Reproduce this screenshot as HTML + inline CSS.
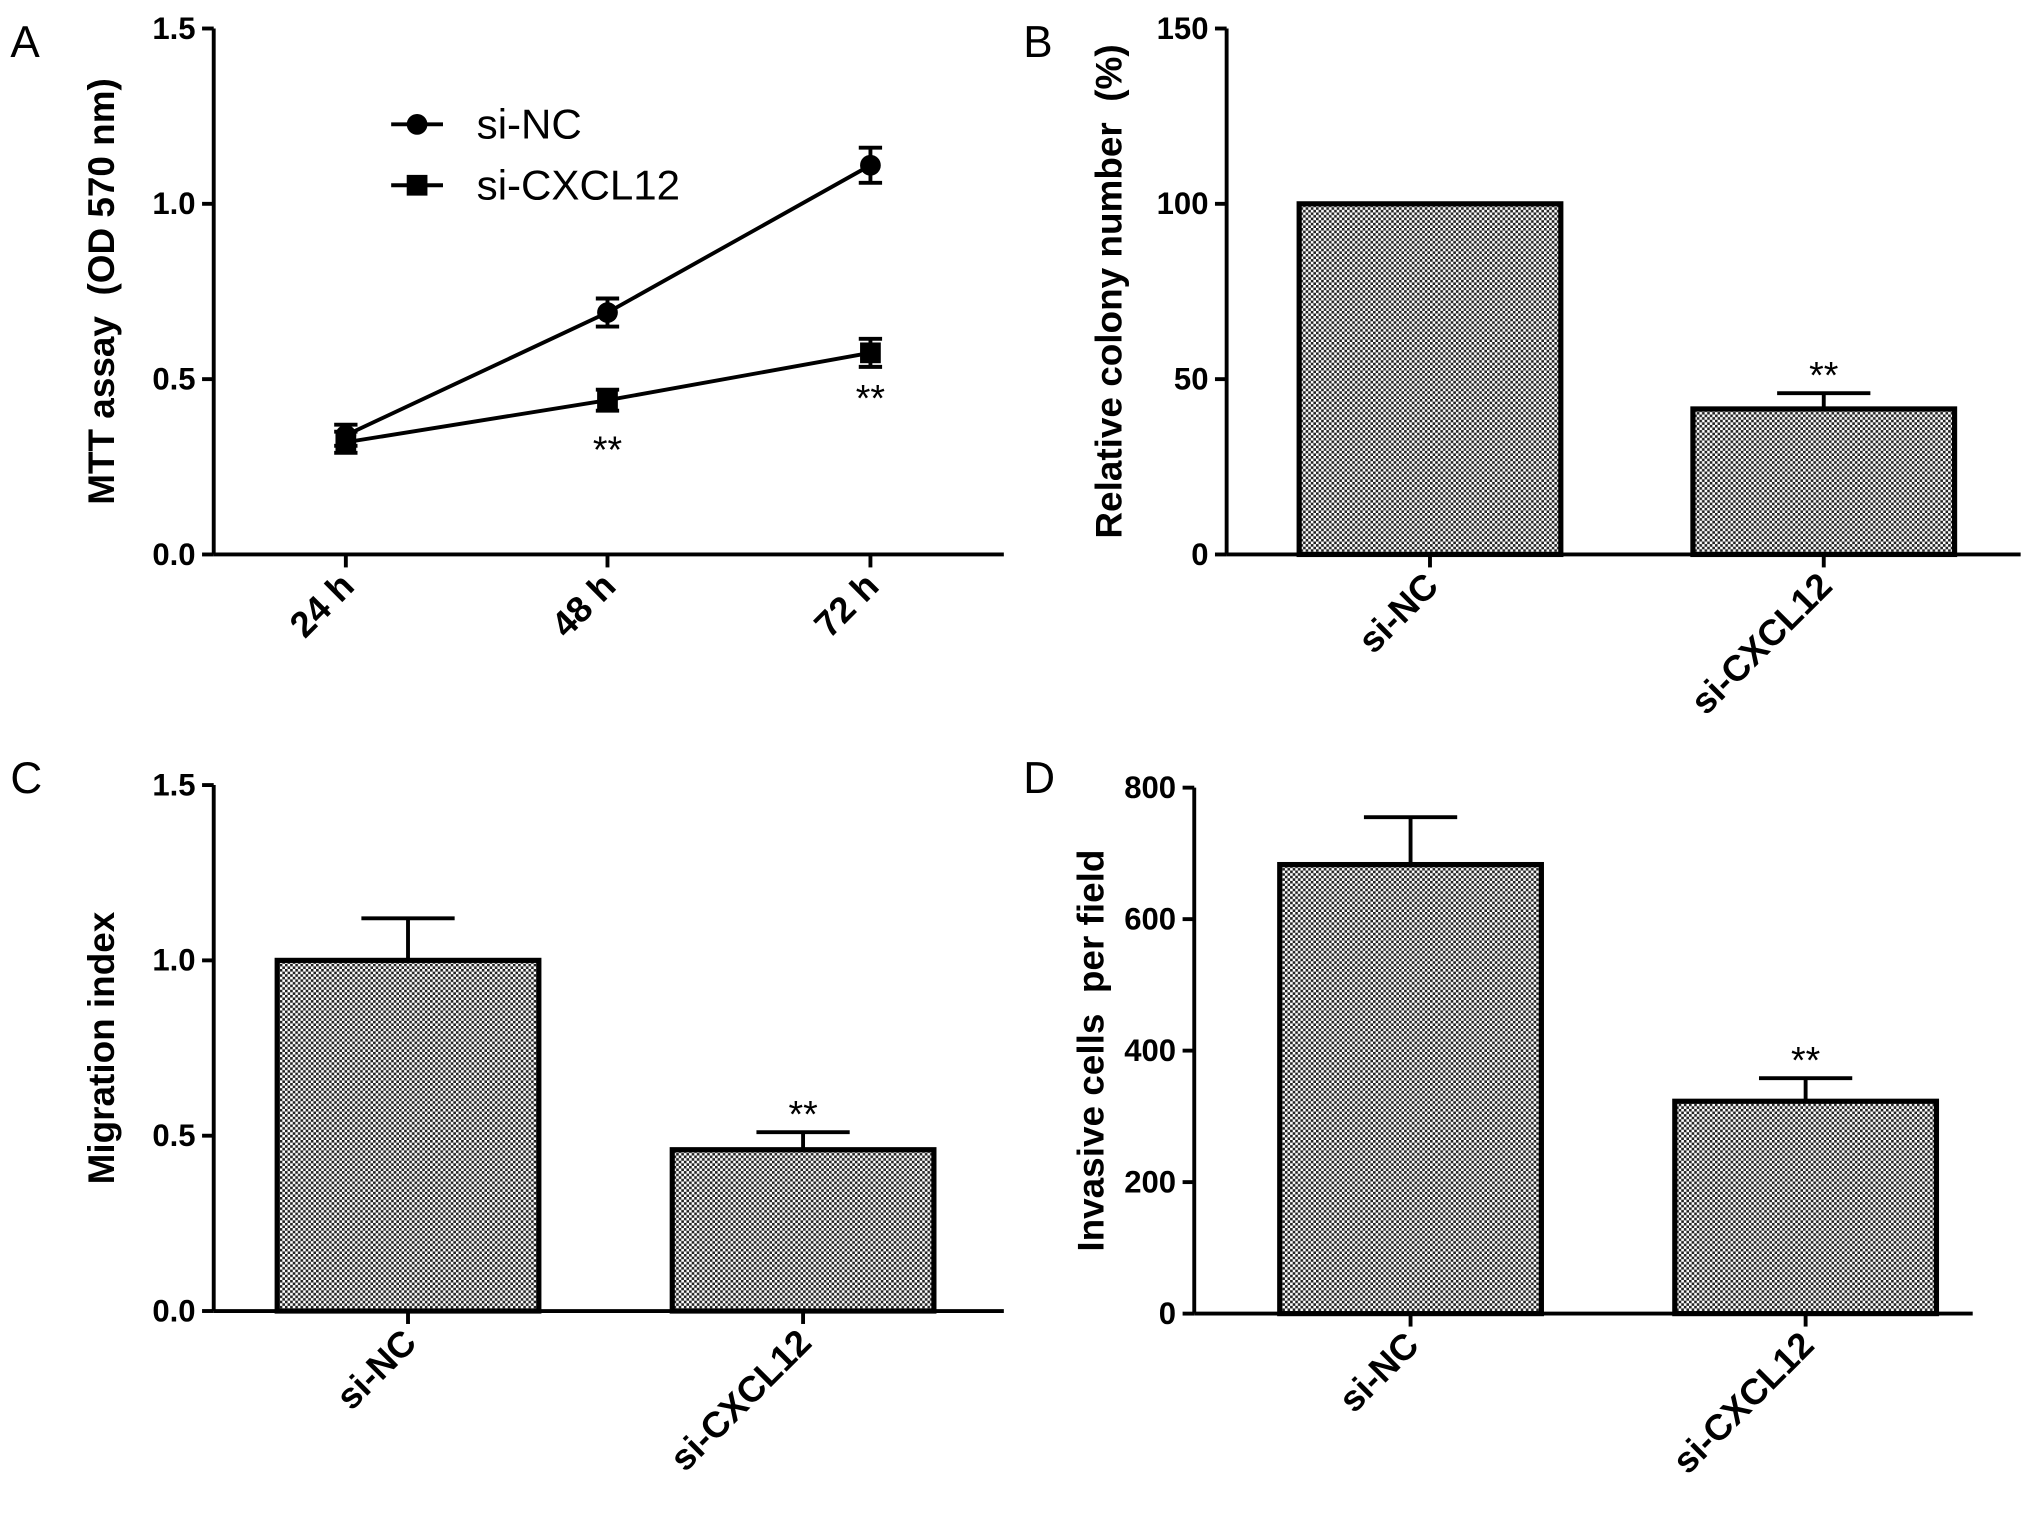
<!DOCTYPE html>
<html><head><meta charset="utf-8"><style>html,body{margin:0;padding:0;background:#fff}svg{display:block;font-family:"Liberation Sans",Arial,sans-serif}</style></head>
<body>
<svg id="fig" width="2031" height="1517" viewBox="0 0 1568 1171" preserveAspectRatio="none" xmlns="http://www.w3.org/2000/svg">
<defs><pattern id="chk" width="4" height="4" patternUnits="userSpaceOnUse"><rect width="4" height="4" fill="#fff"/><rect width="2" height="2" fill="#222"/><rect x="2" y="2" width="2" height="2" fill="#222"/></pattern></defs>
</svg>
<script>
const mttCats=["24 h","48 h","72 h"];
const mttNC=[0.34,0.69,1.11];
const mttNCErr=[0.03,0.04,0.05];
const mttSi=[0.32,0.44,0.575];
const mttSiErr=[0.03,0.03,0.04];
const mttTicks=["0.0","0.5","1.0","1.5"];
const barCats=["si-NC","si-CXCL12"];
const colonyVals=[100,41.5];
const colonyErr=[0,4.5];
const colonyTicks=["0","50","100","150"];
const migVals=[1.0,0.46];
const migErr=[0.12,0.05];
const migTicks=["0.0","0.5","1.0","1.5"];
const invVals=[683,323];
const invErr=[72,35];
const invTicks=["0","200","400","600","800"];

const svg=document.getElementById('fig');const NS="http://www.w3.org/2000/svg";
function el(t,a,txt){const e=document.createElementNS(NS,t);for(const k in a)e.setAttribute(k,a[k]);if(txt!==undefined)e.textContent=txt;svg.appendChild(e);return e;}
function line(x1,y1,x2,y2,w){return el('line',{x1,y1,x2,y2,stroke:'#000','stroke-width':w||3});}

function axes(p){
 const sy=v=>p.bot-(v-p.min)/(p.max-p.min)*(p.bot-p.top);
 let a=line(p.x0,p.top,p.x0,p.bot);
 a=line(p.x0,p.bot,p.x1,p.bot);
 p.ticks.forEach(t=>{const y=sy(parseFloat(t));line(p.x0-9,y,p.x0,y);
  let e=el('text',{x:p.x0-14,y:y+8,'text-anchor':'end','font-size':24,'font-weight':'bold'},t);
  });
 let e=el('text',{transform:`translate(${p.tx},${(p.top+p.bot)/2}) rotate(-90)`,'text-anchor':'middle','font-size':28.5,'font-weight':'bold',style:'white-space:pre'},p.title);
 
 e=el('text',{x:p.lx,y:p.ly,'font-size':34},p.letter);
 
 return sy;}
function catLabel(p,x,t){line(x,p.bot,x,p.bot+10);
 const e=el('text',{transform:`translate(${x+8},${p.bot+26}) rotate(-45)`,'text-anchor':'end','font-size':28,'font-weight':'bold'},t);
 }
function errbar(x,y,yt,w){line(x,y,x,yt);line(x-w,yt,x+w,yt);}
function star(x,y){const e=el('text',{x,y,'text-anchor':'middle','font-size':29},'**');}

function barPanel(p,vals,errs,xs){
 const sy=axes(p);
 vals.forEach((v,i)=>{const cx=xs[i];
  if(errs[i]>0)errbar(cx,sy(v),sy(v+errs[i]),36);
  const r=el('rect',{x:cx-101,y:sy(v),width:202,height:p.bot-sy(v),fill:'url(#chk)',stroke:'#000','stroke-width':4});
  
  catLabel(p,cx,barCats[i]);});
 star(xs[1],sy(vals[1]+errs[1])-4);}

// Panel A
const pA={id:'a',x0:165,x1:775,top:22,bot:428,min:0,max:1.5,ticks:mttTicks,title:'MTT assay  (OD 570 nm)',tx:88,letter:'A',lx:8,ly:44};
const syA=axes(pA);const xA=[267,469,672];
mttCats.forEach((c,i)=>catLabel(pA,xA[i],c));
[[mttNC,mttNCErr,'circle','si-NC'],[mttSi,mttSiErr,'square','si-CXCL12']].forEach(([vals,errs,sh,nm])=>{
 const pl=el('polyline',{points:vals.map((v,i)=>xA[i]+','+syA(v)).join(' '),fill:'none',stroke:'#000','stroke-width':3});
 
 vals.forEach((v,i)=>{errbar(xA[i],syA(v-errs[i]),syA(v+errs[i]),9);line(xA[i]-9,syA(v-errs[i]),xA[i]+9,syA(v-errs[i]));
  const m=sh==='circle'?el('circle',{cx:xA[i],cy:syA(v),r:8}):el('rect',{x:xA[i]-8,y:syA(v)-8,width:16,height:16});
  });});
mttSi.forEach((v,i)=>{if(i>0)star(xA[i],syA(v-mttSiErr[i])+(i===1?40:34));});
[['circle','si-NC',96],['square','si-CXCL12',143]].forEach(([sh,nm,y])=>{
 line(302,y,342,y);
 const m=sh==='circle'?el('circle',{cx:322,cy:y,r:8}):el('rect',{x:314,y:y-8,width:16,height:16});
 
 const t=el('text',{x:368,y:y+11,'font-size':32.5},nm);});

barPanel({id:'b',x0:947,x1:1560,top:22,bot:428,min:0,max:150,ticks:colonyTicks,title:'Relative colony number  (%)',tx:866,letter:'B',lx:790,ly:44},colonyVals,colonyErr,[1104,1408]);
barPanel({id:'c',x0:165,x1:775,top:606,bot:1012,min:0,max:1.5,ticks:migTicks,title:'Migration index',tx:88,letter:'C',lx:8,ly:612},migVals,migErr,[315,620]);
barPanel({id:'d',x0:922,x1:1523,top:608,bot:1014,min:0,max:800,ticks:invTicks,title:'Invasive cells  per field',tx:852,letter:'D',lx:790,ly:612},invVals,invErr,[1089,1394]);
</script>
</body></html>
